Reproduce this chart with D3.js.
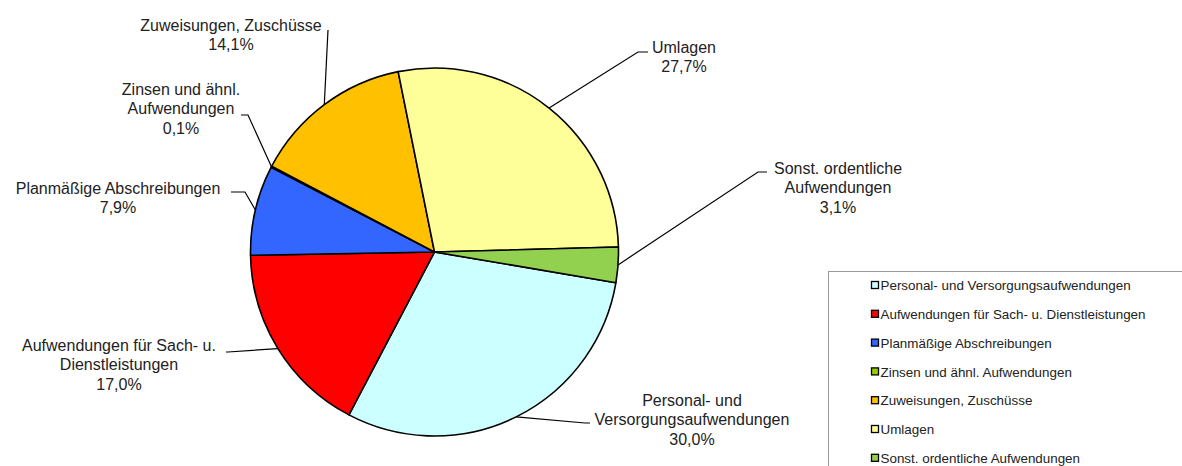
<!DOCTYPE html>
<html>
<head>
<meta charset="utf-8">
<script src="https://cdn.jsdelivr.net/npm/d3@7"></script>
<style>
  body { margin: 0; background: #fff; }
  svg { display: block; font-family: "Liberation Sans", Arial, sans-serif; }
  .lbl { font-size: 16px; fill: #222; }
  .leg { font-size: 13.4px; fill: #222; }
  .leader { fill: none; stroke: #000; stroke-width: 1.2; }
</style>
</head>
<body>
<svg id="chart"></svg>
<script>
// categories in drawing order (clockwise)
const categories = [
  "Personal- und Versorgungsaufwendungen",
  "Aufwendungen für Sach- u. Dienstleistungen",
  "Planmäßige Abschreibungen",
  "Zinsen und ähnl. Aufwendungen",
  "Zuweisungen, Zuschüsse",
  "Umlagen",
  "Sonst. ordentliche Aufwendungen"
];
const shares = [30.0, 17.0, 7.9, 0.1, 14.1, 27.7, 3.1];
const labelLines = [
  ["Personal- und", "Versorgungsaufwendungen"],
  ["Aufwendungen für Sach- u.", "Dienstleistungen"],
  ["Planmäßige Abschreibungen"],
  ["Zinsen und ähnl.", "Aufwendungen"],
  ["Zuweisungen, Zuschüsse"],
  ["Umlagen"],
  ["Sonst. ordentliche", "Aufwendungen"]
];
const colors = ["#CCFFFF", "#FF0000", "#3366FF", "#99CC00", "#FFC000", "#FFFF99", "#92D050"];

// label layout: text centre (x, first-line y) and leader elbow / end points
const labelLayout = [
  { x: 692, y: 400, elbow: [585, 423], end: [590, 423] },
  { x: 119, y: 345, elbow: [228, 352], end: [226, 352] },
  { x: 118, y: 188, elbow: [245, 192], end: [231, 192] },
  { x: 181, y: 89,  elbow: [248, 115], end: [241, 115] },
  { x: 231, y: 25,  elbow: [328, 30],  end: [328, 30] },
  { x: 684, y: 47,  elbow: [638, 52],  end: [648, 52] },
  { x: 838, y: 168, elbow: [758, 172], end: [767, 172] }
];

const W = 1182, H = 466;
const cx = 434.5, cy = 252, R = 184;
const start = 99.6 * Math.PI / 180;

const svg = d3.select("#chart").attr("width", W).attr("height", H);

const pie = d3.pie().sort(null).value(d => d)
  .startAngle(start).endAngle(start + 2 * Math.PI);
const arcs = pie(shares);
const arc = d3.arc().innerRadius(0).outerRadius(R);

const g = svg.append("g").attr("transform", `translate(${cx},${cy})`);
g.selectAll("path.slice").data(arcs).join("path")
  .attr("class", "slice")
  .attr("d", arc)
  .attr("fill", (d, i) => colors[i])
  .attr("stroke", "#000")
  .attr("stroke-width", 1.6)
  .attr("stroke-linejoin", "round");

const fmt = v => d3.format(".1f")(v).replace(".", ",") + "%";

// leaders + labels
arcs.forEach((a, i) => {
  const L = labelLayout[i];
  const mid = (a.startAngle + a.endAngle) / 2;
  const px = cx + R * Math.sin(mid), py = cy - R * Math.cos(mid);
  svg.append("path").attr("class", "leader")
    .attr("d", `M${px},${py} L${L.elbow[0]},${L.elbow[1]} L${L.end[0]},${L.end[1]}`);

  const lines = labelLines[i].concat([fmt(shares[i])]);
  const t = svg.append("text").attr("class", "lbl").attr("text-anchor", "middle");
  lines.forEach((s, k) => {
    t.append("tspan").attr("x", L.x).attr("y", L.y + k * 19.5)
      .attr("dy", "0.35em").text(s);
  });
});

// legend (box runs past the right/bottom edge like in the original)
const lg = svg.append("g").attr("transform", "translate(828.5,271.5)");
lg.append("rect").attr("width", 400).attr("height", 240)
  .attr("fill", "#fff").attr("stroke", "#999").attr("stroke-width", 1);
categories.forEach((c, i) => {
  const y = 14 + i * 28.8;
  lg.append("rect").attr("x", 43).attr("y", y - 4).attr("width", 7).attr("height", 7)
    .attr("fill", colors[i]).attr("stroke", "#000").attr("stroke-width", 1.3);
  lg.append("text").attr("class", "leg").attr("x", 52).attr("y", y)
    .attr("dy", "0.35em").text(c);
});
</script>
</body>
</html>
